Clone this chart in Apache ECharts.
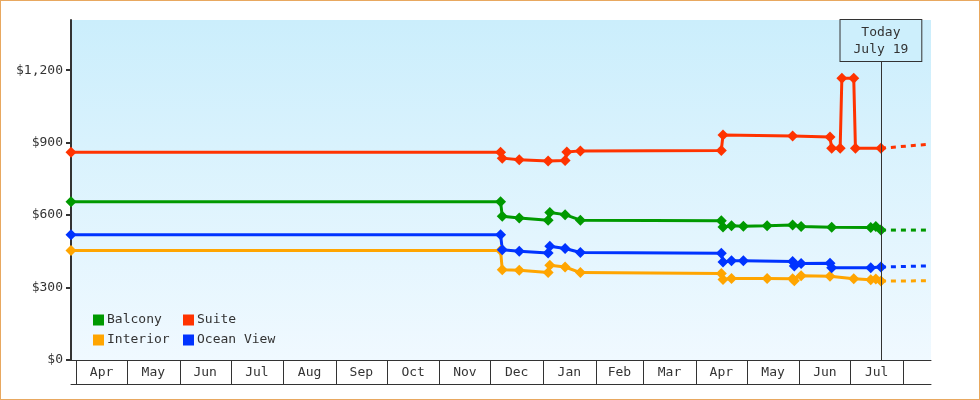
<!DOCTYPE html>
<html>
<head>
<meta charset="utf-8">
<script src="https://cdn.jsdelivr.net/npm/echarts@6/dist/echarts.min.js"></script>
<style>
  html, body { margin: 0; padding: 0; background: #fff; }
  #chart { width: 980px; height: 400px; }
  #frame { position: absolute; left: 0; top: 0; width: 980px; height: 400px;
           box-sizing: border-box; border: 1px solid #e8a860; pointer-events: none; }
</style>
</head>
<body>
<div id="chart"></div>
<div id="frame"></div>
<script>
// month cells under the axis
var monthEdges = ['2018-04-01', '2018-05-01', '2018-06-01', '2018-07-01', '2018-08-01',
  '2018-09-01', '2018-10-01', '2018-11-01', '2018-12-01', '2019-01-01', '2019-02-01',
  '2019-03-01', '2019-04-01', '2019-05-01', '2019-06-01', '2019-07-01', '2019-08-01'];
var monthLabels = ['Apr', 'May', 'Jun', 'Jul', 'Aug', 'Sep', 'Oct', 'Nov',
  'Dec', 'Jan', 'Feb', 'Mar', 'Apr', 'May', 'Jun', 'Jul'];
var yTicks = [0, 300, 600, 900, 1200];

var today = '2019-07-19';

// price history [date, price]
var balcony = [
  ['2018-03-29', 655], ['2018-12-07', 655], ['2018-12-08', 595], ['2018-12-18', 588],
  ['2019-01-04', 579], ['2019-01-05', 611], ['2019-01-14', 602], ['2019-01-23', 579],
  ['2019-04-16', 577], ['2019-04-17', 551], ['2019-04-22', 556], ['2019-04-29', 554],
  ['2019-05-13', 556], ['2019-05-28', 559], ['2019-06-02', 553], ['2019-06-20', 550],
  ['2019-07-13', 549], ['2019-07-16', 553], ['2019-07-19', 538]
];
var suite = [
  ['2018-03-29', 860], ['2018-12-07', 860], ['2018-12-08', 836], ['2018-12-18', 829],
  ['2019-01-04', 824], ['2019-01-14', 826], ['2019-01-15', 861], ['2019-01-23', 866],
  ['2019-04-16', 868], ['2019-04-17', 932], ['2019-05-28', 928], ['2019-06-19', 923],
  ['2019-06-20', 877], ['2019-06-25', 877], ['2019-06-26', 1167], ['2019-07-03', 1167],
  ['2019-07-04', 877], ['2019-07-19', 877]
];
var interior = [
  ['2018-03-29', 453], ['2018-12-07', 453], ['2018-12-08', 374], ['2018-12-18', 372],
  ['2019-01-04', 362], ['2019-01-05', 392], ['2019-01-14', 385], ['2019-01-23', 362],
  ['2019-04-16', 358], ['2019-04-17', 333], ['2019-04-22', 338], ['2019-05-13', 338],
  ['2019-05-28', 336], ['2019-05-29', 328], ['2019-06-02', 349], ['2019-06-19', 347],
  ['2019-07-03', 336], ['2019-07-13', 332], ['2019-07-16', 335], ['2019-07-19', 327]
];
var oceanView = [
  ['2018-03-29', 519], ['2018-12-07', 519], ['2018-12-08', 457], ['2018-12-18', 450],
  ['2019-01-04', 443], ['2019-01-05', 471], ['2019-01-14', 462], ['2019-01-23', 445],
  ['2019-04-16', 442], ['2019-04-17', 406], ['2019-04-22', 411], ['2019-04-29', 411],
  ['2019-05-28', 408], ['2019-05-29', 389], ['2019-06-02', 400], ['2019-06-19', 401],
  ['2019-06-20', 382], ['2019-07-13', 382], ['2019-07-19', 385]
];

// projection after today
var balconyNext = [['2019-07-19', 538], ['2019-08-17', 538]];
var suiteNext = [['2019-07-19', 877], ['2019-08-17', 894]];
var interiorNext = [['2019-07-19', 327], ['2019-08-17', 328]];
var oceanViewNext = [['2019-07-19', 385], ['2019-08-17', 390]];

var FONT = 'DejaVu Sans Mono';
var INK = '#333333';
var colors = { Balcony: '#009900', Suite: '#ff3300', Interior: '#ffa500', 'Ocean View': '#0033ff' };

function histSeries(name, data) {
  return {
    name: name, type: 'line', data: data,
    symbol: 'diamond', symbolSize: 11,
    itemStyle: { color: colors[name] },
    lineStyle: { color: colors[name], width: 3 },
    emphasis: { disabled: true }
  };
}
function nextSeries(name, data) {
  return {
    name: name, type: 'line', data: data, symbol: 'none',
    lineStyle: { color: colors[name], width: 3, type: [5, 5] },
    itemStyle: { color: colors[name] },
    emphasis: { disabled: true }
  };
}

var chart = echarts.init(document.getElementById('chart'));

var legendBase = {
  orient: 'vertical', icon: 'rect', itemWidth: 11, itemHeight: 11, itemGap: 6,
  top: 313, padding: 0, selectedMode: false,
  textStyle: { fontFamily: FONT, fontSize: 13, color: INK, lineHeight: 14, padding: [0, 0, 0, -2] }
};

var balconySeries = histSeries('Balcony', balcony);
balconySeries.markLine = {
  silent: true, symbol: ['none', 'none'],
  lineStyle: { color: INK, width: 1, type: 'solid' },
  label: {
    show: true, position: 'end', distance: 0,
    formatter: 'Today\nJuly 19',
    fontFamily: FONT, fontSize: 13, color: INK, lineHeight: 17,
    backgroundColor: '#cdeffc', borderColor: INK, borderWidth: 1,
    padding: [4, 13, 3, 13]
  },
  data: [[{ coord: [today, 0] }, { coord: [today, 1238] }]]
};

var option = {
  animation: false,
  grid: {
    left: 71, right: 49, top: 20, bottom: 40, show: true, borderWidth: 0,
    backgroundColor: new echarts.graphic.LinearGradient(0, 0, 0, 1, [
      { offset: 0, color: '#cbeefc' }, { offset: 1, color: '#f0f9ff' }
    ])
  },
  legend: [
    Object.assign({}, legendBase, { left: 93, data: ['Balcony', 'Interior'] }),
    Object.assign({}, legendBase, { left: 183, data: ['Suite', 'Ocean View'] })
  ],
  xAxis: [{
    type: 'time', min: '2018-03-29', max: '2019-08-17 12:00:00',
    axisLine: { show: true, lineStyle: { color: INK, width: 1 } },
    axisTick: { show: false }, axisLabel: { show: false }, splitLine: { show: false }
  }, {
    type: 'time', min: '2018-03-29', max: '2019-08-17 12:00:00',
    position: 'bottom', offset: 24,
    axisLine: { show: true, lineStyle: { color: INK, width: 1 } },
    axisTick: { show: false }, axisLabel: { show: false }, splitLine: { show: false }
  }],
  yAxis: {
    type: 'value', min: 0, max: 1408,
    axisLine: { show: true, lineStyle: { color: INK, width: 2 } },
    axisTick: { show: true, length: 5, lineStyle: { color: INK, width: 2 }, customValues: yTicks },
    axisLabel: {
      customValues: yTicks, margin: 8, color: INK, fontFamily: FONT, fontSize: 13,
      formatter: function (v) { return '$' + v.toLocaleString('en-US'); }
    },
    splitLine: { show: false }
  },
  series: [
    nextSeries('Interior', interiorNext),
    nextSeries('Ocean View', oceanViewNext),
    nextSeries('Balcony', balconyNext),
    nextSeries('Suite', suiteNext),
    histSeries('Interior', interior),
    histSeries('Ocean View', oceanView),
    balconySeries,
    histSeries('Suite', suite),
    {
      type: 'custom', name: 'months', silent: true, clip: false,
      xAxisIndex: 0,
      dimensions: ['start', 'end', 'v'],
      encode: { x: [0, 1], y: 2 },
      data: monthLabels.map(function (m, i) { return [monthEdges[i], monthEdges[i + 1], 0]; }),
      renderItem: function (params, api) {
        var p0 = api.coord([api.value(0), 0]);
        var p1 = api.coord([api.value(1), 0]);
        var y = Math.round(p0[1]);
        var xa = Math.round(p0[0]) + 0.5;
        var xb = Math.round(p1[0]) + 0.5;
        return {
          type: 'group',
          children: [
            { type: 'line', shape: { x1: xa, y1: y, x2: xa, y2: y + 25 }, style: { stroke: INK, lineWidth: 1 } },
            { type: 'line', shape: { x1: xb, y1: y, x2: xb, y2: y + 25 }, style: { stroke: INK, lineWidth: 1 } },
            { type: 'text', style: {
                text: monthLabels[params.dataIndex], x: (p0[0] + p1[0]) / 2, y: y + 13,
                align: 'center', verticalAlign: 'middle',
                font: '13px "' + FONT + '"', fill: INK } }
          ]
        };
      }
    }
  ]
};

chart.setOption(option);
</script>
</body>
</html>
